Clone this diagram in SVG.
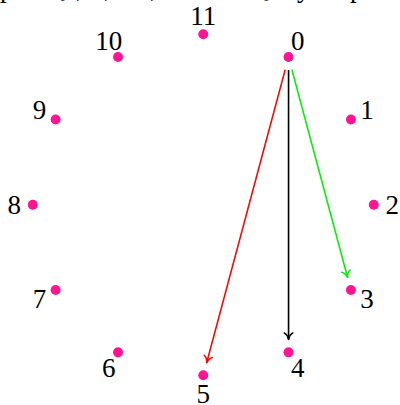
<svg xmlns="http://www.w3.org/2000/svg" width="400" height="405" viewBox="0 0 400 405">
<style>
.dot{fill:#ff1493;stroke:none}
.lbl{font-family:"Liberation Serif","Times New Roman",serif;font-size:27px;fill:#000;text-anchor:middle}
.cut{font-family:"Liberation Serif","Times New Roman",serif;font-size:27px;fill:#000}
.edge{fill:none;stroke-width:1.6}
.head{fill:none;stroke-width:1.5;stroke-linecap:round;stroke-linejoin:round}
</style>
<defs>
<marker id="aR" markerUnits="userSpaceOnUse" orient="auto" viewBox="-10 -6 12 12" markerWidth="12" markerHeight="12" refX="0" refY="0" overflow="visible"><path class="head" stroke="#ff0000" d="M-6.5,-4.3 C-5,-1.6 -1.6,-0.3 0,0 C-1.6,0.3 -5,1.6 -6.5,4.3"/></marker>
<marker id="aK" markerUnits="userSpaceOnUse" orient="auto" viewBox="-10 -6 12 12" markerWidth="12" markerHeight="12" refX="0" refY="0" overflow="visible"><path class="head" stroke="#000000" d="M-6.5,-4.3 C-5,-1.6 -1.6,-0.3 0,0 C-1.6,0.3 -5,1.6 -6.5,4.3"/></marker>
<marker id="aG" markerUnits="userSpaceOnUse" orient="auto" viewBox="-10 -6 12 12" markerWidth="12" markerHeight="12" refX="0" refY="0" overflow="visible"><path class="head" stroke="#00ee00" d="M-6.5,-4.3 C-5,-1.6 -1.6,-0.3 0,0 C-1.6,0.3 -5,1.6 -6.5,4.3"/></marker>
</defs>
<rect width="400" height="405" fill="#fff"/>
<text class="cut" y="-3.5"><tspan x="0">p</tspan><tspan x="54">{</tspan><tspan x="76">,</tspan><tspan x="104">,</tspan><tspan x="150">,</tspan><tspan x="262">}</tspan><tspan x="297">y</tspan><tspan x="350">p</tspan></text>
<g id="connectors">
<line class="edge" stroke="#ff0000" x1="285.2" y1="69.6" x2="206.7" y2="362.6" marker-end="url(#aR)"/>
<line class="edge" stroke="#000000" x1="288.55" y1="70" x2="288.55" y2="339.4" marker-end="url(#aK)"/>
<line class="edge" stroke="#00ee00" x1="291.9" y1="69.6" x2="347.6" y2="277.4" marker-end="url(#aG)"/>
</g>
<g id="n0"><circle class="dot" cx="288.55" cy="57.04" r="5"/><text class="lbl" x="297.8" y="50">0</text></g>
<g id="n1"><circle class="dot" cx="350.96" cy="119.45" r="5"/><text class="lbl" x="367" y="119.2">1</text></g>
<g id="n2"><circle class="dot" cx="373.8" cy="204.7" r="5"/><text class="lbl" x="392.3" y="213.7">2</text></g>
<g id="n3"><circle class="dot" cx="350.96" cy="289.95" r="5"/><text class="lbl" x="367" y="308.2">3</text></g>
<g id="n4"><circle class="dot" cx="288.55" cy="352.36" r="5"/><text class="lbl" x="297.8" y="377.4">4</text></g>
<g id="n5"><circle class="dot" cx="203.3" cy="375.2" r="5"/><text class="lbl" x="203.3" y="402.7">5</text></g>
<g id="n6"><circle class="dot" cx="118.05" cy="352.36" r="5"/><text class="lbl" x="108.8" y="377.4">6</text></g>
<g id="n7"><circle class="dot" cx="55.64" cy="289.95" r="5"/><text class="lbl" x="39.6" y="308.2">7</text></g>
<g id="n8"><circle class="dot" cx="32.8" cy="204.7" r="5"/><text class="lbl" x="14.3" y="213.7">8</text></g>
<g id="n9"><circle class="dot" cx="55.64" cy="119.45" r="5"/><text class="lbl" x="39.6" y="119.2">9</text></g>
<g id="n10"><circle class="dot" cx="118.05" cy="57.04" r="5"/><text class="lbl" x="108.8" y="50">10</text></g>
<g id="n11"><circle class="dot" cx="203.3" cy="34.2" r="5"/><text class="lbl" x="203.3" y="24.7">11</text></g>
</svg>
